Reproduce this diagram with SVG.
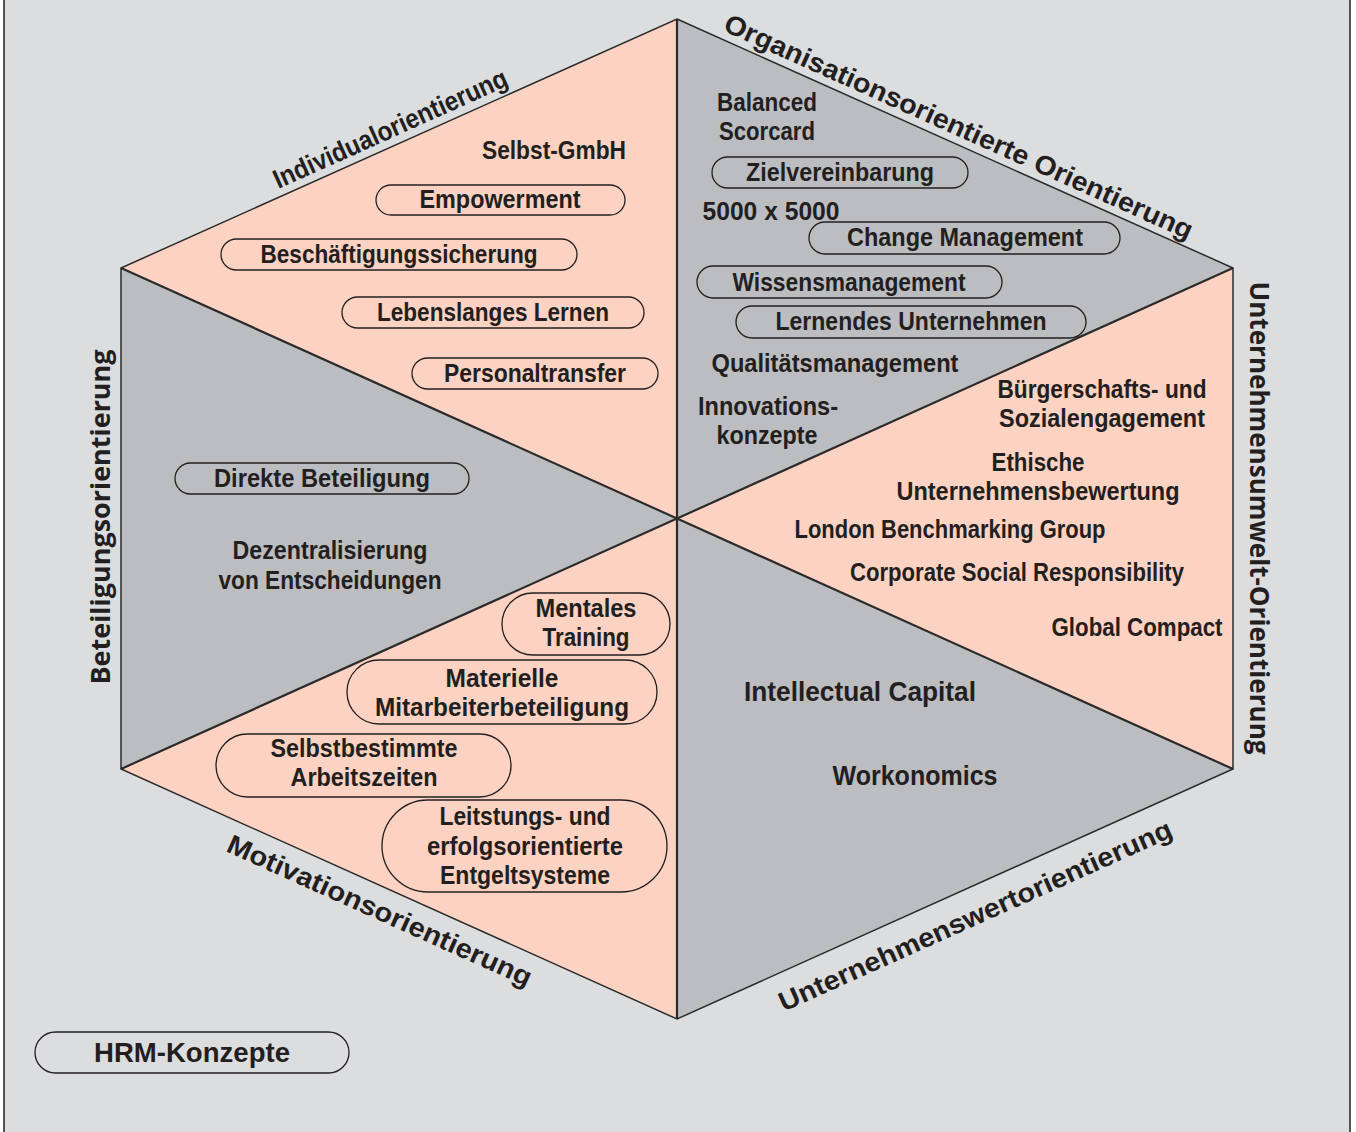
<svg xmlns="http://www.w3.org/2000/svg" width="1356" height="1132" viewBox="0 0 1356 1132">
  <style>
    .t { font-family: "Liberation Sans Narrow", "Liberation Sans", "DejaVu Sans", sans-serif; font-weight: bold; font-size: 25px; fill: #231f20; text-anchor: middle; }
    .big { font-size: 28px; }
    .axis { font-family: "Liberation Sans Narrow", "Liberation Sans", sans-serif; font-weight: bold; font-size: 27px; fill: #231f20; text-anchor: middle; }
    .vaxis { font-family: "Open Sans", "DejaVu Sans", sans-serif; font-weight: bold; font-size: 27px; fill: #231f20; text-anchor: middle; }
    .pill { stroke: #231f20; stroke-width: 1.3; }
    .pk { fill: #fcd2c2; }
    .gr { fill: #bcbdc1; }
    .edge { fill: none; stroke: #2b2b2b; stroke-width: 1.5; stroke-linejoin: miter; }
    .axisline { stroke: #2b2b2b; stroke-width: 2.2; }
  </style>

  <!-- page background and frame -->
  <rect x="4" y="-4" width="1346" height="1140" fill="#dcdddf" stroke="#231f20" stroke-width="1.5"/>

  <!-- six segments of the hexagon -->
  <g id="segments">
    <polygon class="pk" points="677,19 121,268 677,519"/>
    <polygon class="gr" points="677,19 1233,268 677,519"/>
    <polygon class="pk" points="1233,268 1233,769 677,519"/>
    <polygon class="gr" points="1233,769 677,1019 677,519"/>
    <polygon class="pk" points="677,1019 121,769 677,519"/>
    <polygon class="gr" points="121,769 121,268 677,519"/>
  </g>

  <!-- outline and dividing lines -->
  <g id="connectors">
    <polygon class="edge" points="677,19 1233,268 1233,769 677,1019 121,769 121,268"/>
    <line class="axisline" x1="677" y1="19" x2="677" y2="1019"/>
    <line class="axisline" x1="121" y1="268" x2="1233" y2="769"/>
    <line class="axisline" x1="1233" y1="268" x2="121" y2="769"/>
  </g>

  <!-- axis labels -->
  <g id="axis-individual"><text class="axis" transform="translate(394,137) rotate(-24.23)" textLength="254" lengthAdjust="spacingAndGlyphs">Individualorientierung</text></g>
  <g id="axis-organisation"><text class="axis big" transform="translate(955,135) rotate(24.23)" textLength="511" lengthAdjust="spacingAndGlyphs">Organisationsorientierte Orientierung</text></g>
  <g id="axis-umwelt"><text class="vaxis" transform="translate(1250,518) rotate(90)" textLength="473" lengthAdjust="spacingAndGlyphs">Unternehmensumwelt-Orientierung</text></g>
  <g id="axis-wert"><text class="axis" transform="translate(979,924) rotate(-24.23)" textLength="428" lengthAdjust="spacingAndGlyphs">Unternehmenswertorientierung</text></g>
  <g id="axis-motivation"><text class="axis" transform="translate(376,919) rotate(24.23)" textLength="331" lengthAdjust="spacingAndGlyphs">Motivationsorientierung</text></g>
  <g id="axis-beteiligung"><text class="vaxis" transform="translate(110,517) rotate(-90)" textLength="335" lengthAdjust="spacingAndGlyphs">Beteiligungsorientierung</text></g>

  <!-- Individualorientierung -->
  <g id="selbst-gmbh"><text class="t" x="554" y="159" textLength="144" lengthAdjust="spacingAndGlyphs">Selbst-GmbH</text></g>
  <g id="empowerment"><rect class="pill pk" x="376" y="185" width="249" height="30" rx="15"/><text class="t" x="500" y="208" textLength="161" lengthAdjust="spacingAndGlyphs">Empowerment</text></g>
  <g id="beschaeftigungssicherung"><rect class="pill pk" x="221" y="239" width="356" height="31" rx="15.5"/><text class="t" x="399" y="263" textLength="277" lengthAdjust="spacingAndGlyphs">Beschäftigungssicherung</text></g>
  <g id="lebenslanges-lernen"><rect class="pill pk" x="342" y="297" width="302" height="31" rx="15.5"/><text class="t" x="493" y="321" textLength="232" lengthAdjust="spacingAndGlyphs">Lebenslanges Lernen</text></g>
  <g id="personaltransfer"><rect class="pill pk" x="412" y="358" width="246" height="31" rx="15.5"/><text class="t" x="535" y="382" textLength="182" lengthAdjust="spacingAndGlyphs">Personaltransfer</text></g>

  <!-- Organisationsorientierte Orientierung -->
  <g id="balanced-scorecard"><text class="t" x="767" y="111" textLength="100" lengthAdjust="spacingAndGlyphs">Balanced</text><text class="t" x="767" y="140" textLength="96" lengthAdjust="spacingAndGlyphs">Scorcard</text></g>
  <g id="zielvereinbarung"><rect class="pill gr" x="712" y="157" width="256" height="31" rx="15.5"/><text class="t" x="840" y="181" textLength="188" lengthAdjust="spacingAndGlyphs">Zielvereinbarung</text></g>
  <g id="fuenftausend"><text class="t" x="771" y="220" textLength="137" lengthAdjust="spacingAndGlyphs">5000 x 5000</text></g>
  <g id="change-management"><rect class="pill gr" x="809" y="222" width="311" height="32" rx="16"/><text class="t" x="965" y="246" textLength="236" lengthAdjust="spacingAndGlyphs">Change Management</text></g>
  <g id="wissensmanagement"><rect class="pill gr" x="697" y="266" width="305" height="32" rx="16"/><text class="t" x="849" y="291" textLength="233" lengthAdjust="spacingAndGlyphs">Wissensmanagement</text></g>
  <g id="lernendes-unternehmen"><rect class="pill gr" x="736" y="306" width="350" height="32" rx="16"/><text class="t" x="911" y="330" textLength="271" lengthAdjust="spacingAndGlyphs">Lernendes Unternehmen</text></g>
  <g id="qualitaetsmanagement"><text class="t" x="835" y="372" textLength="247" lengthAdjust="spacingAndGlyphs">Qualitätsmanagement</text></g>
  <g id="innovationskonzepte"><text class="t" x="768" y="415" textLength="140" lengthAdjust="spacingAndGlyphs">Innovations-</text><text class="t" x="767" y="444" textLength="101" lengthAdjust="spacingAndGlyphs">konzepte</text></g>

  <!-- Unternehmensumwelt-Orientierung -->
  <g id="buergerschaft"><text class="t" x="1102" y="398" textLength="209" lengthAdjust="spacingAndGlyphs">Bürgerschafts- und</text><text class="t" x="1102" y="427" textLength="206" lengthAdjust="spacingAndGlyphs">Sozialengagement</text></g>
  <g id="ethische-bewertung"><text class="t" x="1038" y="471" textLength="93" lengthAdjust="spacingAndGlyphs">Ethische</text><text class="t" x="1038" y="500" textLength="283" lengthAdjust="spacingAndGlyphs">Unternehmensbewertung</text></g>
  <g id="london-benchmarking"><text class="t" x="950" y="538" textLength="311" lengthAdjust="spacingAndGlyphs">London Benchmarking Group</text></g>
  <g id="csr"><text class="t" x="1017" y="581" textLength="334" lengthAdjust="spacingAndGlyphs">Corporate Social Responsibility</text></g>
  <g id="global-compact"><text class="t" x="1137" y="636" textLength="171" lengthAdjust="spacingAndGlyphs">Global Compact</text></g>

  <!-- Unternehmenswertorientierung -->
  <g id="intellectual-capital"><text class="t big" x="860" y="701" textLength="232" lengthAdjust="spacingAndGlyphs">Intellectual Capital</text></g>
  <g id="workonomics"><text class="t big" x="915" y="785" textLength="165" lengthAdjust="spacingAndGlyphs">Workonomics</text></g>

  <!-- Motivationsorientierung -->
  <g id="mentales-training"><rect class="pill pk" x="502" y="593" width="168" height="62" rx="31"/><text class="t" x="586" y="617" textLength="101" lengthAdjust="spacingAndGlyphs">Mentales</text><text class="t" x="586" y="646" textLength="87" lengthAdjust="spacingAndGlyphs">Training</text></g>
  <g id="materielle-beteiligung"><rect class="pill pk" x="347" y="660" width="310" height="64" rx="32"/><text class="t" x="502" y="687" textLength="113" lengthAdjust="spacingAndGlyphs">Materielle</text><text class="t" x="502" y="716" textLength="254" lengthAdjust="spacingAndGlyphs">Mitarbeiterbeteiligung</text></g>
  <g id="arbeitszeiten"><rect class="pill pk" x="216" y="734" width="295" height="63" rx="31.5"/><text class="t" x="364" y="757" textLength="187" lengthAdjust="spacingAndGlyphs">Selbstbestimmte</text><text class="t" x="364" y="786" textLength="147" lengthAdjust="spacingAndGlyphs">Arbeitszeiten</text></g>
  <g id="entgeltsysteme"><rect class="pill pk" x="382" y="800" width="285" height="92" rx="46"/><text class="t" x="525" y="825" textLength="171" lengthAdjust="spacingAndGlyphs">Leitstungs- und</text><text class="t" x="525" y="855" textLength="196" lengthAdjust="spacingAndGlyphs">erfolgsorientierte</text><text class="t" x="525" y="884" textLength="170" lengthAdjust="spacingAndGlyphs">Entgeltsysteme</text></g>

  <!-- Beteiligungsorientierung -->
  <g id="direkte-beteiligung"><rect class="pill gr" x="175" y="463" width="294" height="31" rx="15.5"/><text class="t" x="322" y="487" textLength="216" lengthAdjust="spacingAndGlyphs">Direkte Beteiligung</text></g>
  <g id="dezentralisierung"><text class="t" x="330" y="559" textLength="195" lengthAdjust="spacingAndGlyphs">Dezentralisierung</text><text class="t" x="330" y="589" textLength="223" lengthAdjust="spacingAndGlyphs">von Entscheidungen</text></g>

  <!-- legend -->
  <g id="hrm-konzepte"><rect class="pill" fill="#dcdddf" x="35" y="1032" width="314" height="41" rx="20.5"/><text class="t big" x="192" y="1062" textLength="196" lengthAdjust="spacingAndGlyphs">HRM-Konzepte</text></g>
</svg>
